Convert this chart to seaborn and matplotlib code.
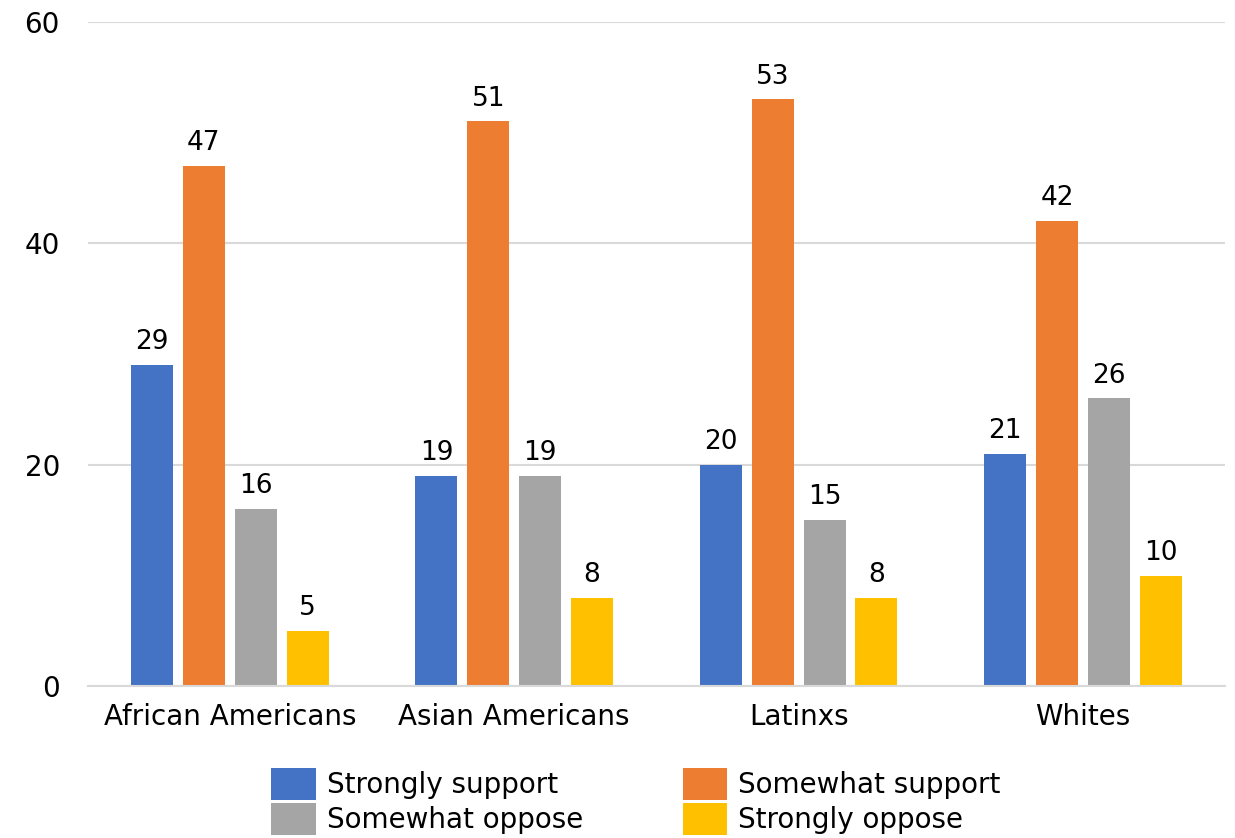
import pandas as pd
import matplotlib.pyplot as plt
import seaborn as sns

# Chart data
groups = ['African Americans', 'Asian Americans', 'Latinxs', 'Whites']
responses = ['Strongly support', 'Somewhat support', 'Somewhat oppose', 'Strongly oppose']
strongly_support = [29, 19, 20, 21]
somewhat_support = [47, 51, 53, 42]
somewhat_oppose = [16, 19, 15, 26]
strongly_oppose = [5, 8, 8, 10]
colors = ['#4472C4', '#ED7D31', '#A5A5A5', '#FFC000']

# Build long dataframe for seaborn
rows = []
for resp, vals in zip(responses, [strongly_support, somewhat_support, somewhat_oppose, strongly_oppose]):
    for g, v in zip(groups, vals):
        rows.append({'group': g, 'response': resp, 'value': v})
df = pd.DataFrame(rows)

sns.set_style('white')
plt.rcParams['font.family'] = ['DejaVu Sans']
plt.rcParams['text.color'] = 'black'
plt.rcParams['xtick.color'] = 'black'
plt.rcParams['ytick.color'] = 'black'

fig = plt.figure(figsize=(12.35, 8.38), dpi=100)
ax = fig.add_axes([0.071, 0.181, 0.921, 0.793])

sns.barplot(data=df, x='group', y='value', hue='response', order=groups,
            hue_order=responses, palette=colors, width=0.73, gap=0.19,
            saturation=1, linewidth=0, ax=ax, legend=True)

# Data labels
for container in ax.containers:
    ax.bar_label(container, fmt='%d', padding=7, fontsize=19, color='black')

ax.set_ylim(0, 60)
ax.set_yticks([0, 20, 40, 60])
ax.set_xlim(-0.5, 3.5)
ax.yaxis.grid(True, color='#D9D9D9', linewidth=1.5)
ax.set_axisbelow(True)
for s in ['top', 'right', 'left']:
    ax.spines[s].set_visible(False)
ax.spines['bottom'].set_color('#D9D9D9')
ax.spines['bottom'].set_linewidth(1.5)
ax.tick_params(axis='both', length=0, labelsize=20, pad=12)
ax.tick_params(axis='y', pad=20)
ax.set_xlabel('')
ax.set_ylabel('')

# Legend row-wise order like the original
handles, labels = ax.get_legend_handles_labels()
order = [0, 2, 1, 3]
ax.legend([handles[i] for i in order], [labels[i] for i in order],
          loc='upper center', bbox_to_anchor=(0.482, -0.085),
          ncol=2, frameon=False, fontsize=20, handlelength=1.6, handleheight=1.4,
          columnspacing=3.6, labelspacing=0.1, handletextpad=0.4)

plt.savefig('out.png', dpi=100)
plt.close()
